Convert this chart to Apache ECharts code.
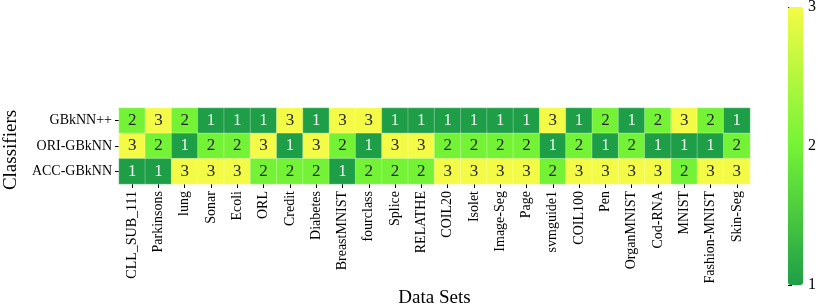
<!DOCTYPE html>
<html><head><meta charset="utf-8">
<script src="https://cdn.jsdelivr.net/npm/echarts@6/dist/echarts.min.js"></script>
<style>html,body{margin:0;padding:0;background:#fff}#c{width:831px;height:305px}</style>
</head><body><div id="c"></div>
<script>
const datasets = ['CLL_SUB_111','Parkinsons','lung','Sonar','Ecoli','ORL','Credit','Diabetes','BreastMNIST','fourclass','Splice','RELATHE','COIL20','Isolet','Image-Seg','Page','svmguide1','COIL100','Pen','OrganMNIST','Cod-RNA','MNIST','Fashion-MNIST','Skin-Seg'];
const classifiers = ['GBkNN++','ORI-GBkNN','ACC-GBkNN'];
const gbknnPP  = [2,3,2,1,1,1,3,1,3,3,1,1,1,1,1,1,3,1,2,1,2,3,2,1];
const oriGbknn = [3,2,1,2,2,3,1,3,2,1,3,3,2,2,2,2,1,2,1,2,1,1,1,2];
const accGbknn = [1,1,3,3,3,2,2,2,1,2,2,2,3,3,3,3,2,3,3,3,3,2,3,3];
const colorTicks = [1,2,3];

const rows = [gbknnPP, oriGbknn, accGbknn];
const FONT = 'Liberation Serif';
const data = [];
rows.forEach((r, ri) => r.forEach((v, ci) => data.push({
  value: [ci, ri, v],
  label: {color: v === 1 ? '#eef6ee' : '#262626', fontFamily: FONT, fontSize: 17}
})));

const chart = echarts.init(document.getElementById('c'));
chart.setOption({
  animation: false,
  grid: [
    {left: 119, top: 108, width: 631, height: 76, containLabel: false, outerBoundsMode: 'none'},
    {left: 788, top: 7, width: 15, height: 278, containLabel: false, outerBoundsMode: 'none'}
  ],
  xAxis: [{
    type: 'category', data: datasets, gridIndex: 0, position: 'bottom',
    axisLine: {show: false},
    axisTick: {show: true, alignWithLabel: true, length: 4, lineStyle: {color: '#000'}},
    axisLabel: {rotate: 90, fontFamily: FONT, fontSize: 14, color: '#000', margin: 7, interval: 0},
    splitLine: {show: false},
    name: 'Data Sets', nameLocation: 'middle', nameGap: 105,
    nameTextStyle: {fontFamily: FONT, fontSize: 19, color: '#000'}
  }, {
    type: 'value', gridIndex: 1, show: false, min: 0, max: 1
  }],
  yAxis: [{
    type: 'category', data: classifiers, gridIndex: 0, inverse: true,
    axisLine: {show: false},
    axisTick: {show: true, alignWithLabel: true, length: 4, lineStyle: {color: '#000'}},
    axisLabel: {fontFamily: FONT, fontSize: 14, color: '#000', margin: 7},
    splitLine: {show: false},
    name: 'Classifiers', nameLocation: 'middle', nameGap: 97, nameRotate: 90,
    nameTextStyle: {fontFamily: FONT, fontSize: 19, color: '#000', padding: [0, 8, 0, 0]}
  }, {
    type: 'value', gridIndex: 1, position: 'right', min: 1, max: 3, interval: 1,
    axisLine: {show: false},
    axisTick: {show: true, length: 4, lineStyle: {color: '#000'}},
    axisLabel: {fontFamily: FONT, fontSize: 16, color: '#000', margin: 5, formatter: v => colorTicks.includes(v) ? String(v) : ''},
    splitLine: {show: false}
  }],
  visualMap: {
    type: 'continuous', min: 1, max: 3, seriesIndex: 0, calculable: false,
    orient: 'vertical', left: 788, top: 7, itemWidth: 15, itemHeight: 278,
    padding: 0, text: null, showLabel: false, hoverLink: false,
    inRange: {color: ['#1f9e48', '#74f336', '#f4fb46']}
  },
  series: [{
    type: 'heatmap', xAxisIndex: 0, yAxisIndex: 0, data: data,
    itemStyle: {borderColor: 'rgba(255,255,255,0.35)', borderWidth: 0.8},
    label: {
      show: true, fontFamily: FONT, fontSize: 17,
      formatter: p => String(p.value[2])
    },
    emphasis: {disabled: true}
  }, {
    type: 'scatter', xAxisIndex: 1, yAxisIndex: 1, data: [], silent: true
  }]
});
</script></body></html>
